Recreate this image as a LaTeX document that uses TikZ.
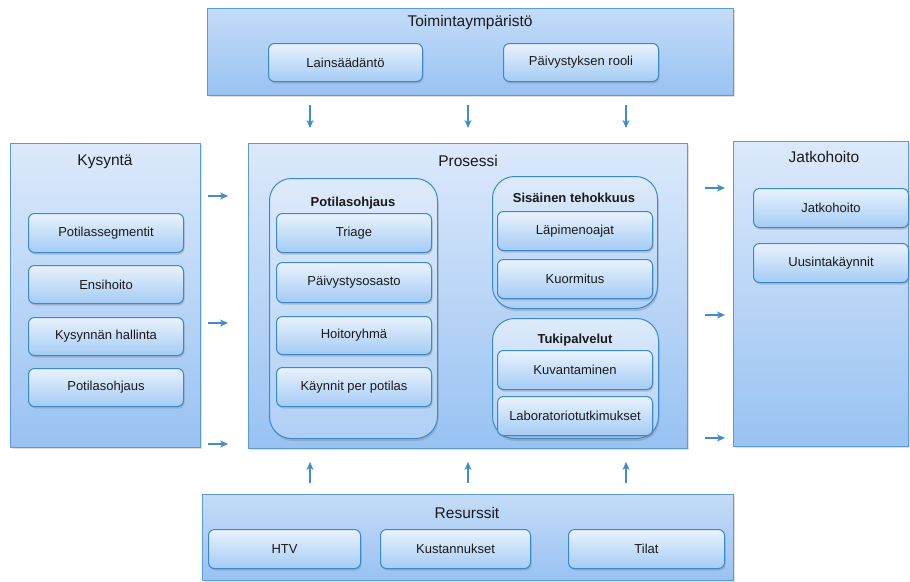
\documentclass[tikz,border=0pt]{standalone}
\usepackage{fontspec}
\setmainfont{Liberation Sans}
\usetikzlibrary{arrows.meta,shadows}
\definecolor{outerTop}{HTML}{DCE9FB}
\definecolor{outerBot}{HTML}{98C2F2}
\definecolor{envTop}{HTML}{C4DCF8}
\definecolor{envBot}{HTML}{98C2F2}
\definecolor{outerLine}{HTML}{5A9AD6}
\definecolor{itemTop}{HTML}{E9F2FC}
\definecolor{itemBot}{HTML}{A4CBF5}
\definecolor{itemLine}{HTML}{3B88CC}
\definecolor{grpTop}{HTML}{DDEAFA}
\definecolor{grpBot}{HTML}{AFD0F6}
\definecolor{arrCol}{HTML}{3F8DCF}
\definecolor{txt}{HTML}{1A1A1A}
\tikzset{
  outerbox/.style={draw=outerLine, line width=1.1pt, top color=outerTop, bottom color=outerBot,
    drop shadow={shadow xshift=1pt, shadow yshift=-1.5pt, opacity=0.25}},
  envbox/.style={outerbox, top color=envTop, bottom color=envBot},
  itembox/.style={draw=itemLine, line width=1pt, rounded corners=6pt, top color=itemTop, bottom color=itemBot,
    drop shadow={shadow xshift=1pt, shadow yshift=-2pt, opacity=0.35},
    text=txt, font=\fontsize{13}{15}\selectfont},
  grpbox/.style={draw=itemLine, line width=1pt, rounded corners=22pt, top color=grpTop, bottom color=grpBot,
    drop shadow={shadow xshift=1pt, shadow yshift=-2.5pt, opacity=0.35}},
  titletext/.style={text=txt, font=\fontsize{15.5}{17}\selectfont, inner sep=0pt},
  grptitle/.style={text=txt, font=\bfseries\fontsize{13}{15}\selectfont, inner sep=0pt},
  arr/.style={draw=arrCol, line width=1.1pt, -{Stealth[length=8pt,width=7pt,inset=2.5pt]}},
}
\newcommand{\bx}[7]{\node[#2, anchor=north west, inner sep=0pt, minimum width={(#5-#3)*1pt}, minimum height={(#6-#4)*1pt}] (#1) at (#3,#4) {#7};}
\begin{document}
\begin{tikzpicture}[x=1pt,y=-1pt]
\useasboundingbox (0,0) rectangle (910,581);
% outer boxes
\bx{env}{envbox}{207}{8}{733}{95}{}
\bx{kys}{outerbox}{10}{143}{200}{447}{}
\bx{pro}{outerbox}{248}{143}{687}{448}{}
\bx{jat}{outerbox}{733}{141}{908}{446}{}
\bx{res}{envbox}{202}{494}{733}{580}{}
% titles
\node[titletext] (envT) at (470,22) {Toimintaympäristö};
\node[titletext] (kysT) at (105,162) {Kysyntä};
\node[titletext] (proT) at (468,161) {Prosessi};
\node[titletext] (jatT) at (824,157) {Jatkohoito};
\node[titletext] (resT) at (467,513) {Resurssit};
% env items
\bx{lain}{itembox}{268}{43}{422}{81}{Lainsäädäntö}
\bx{rooli}{itembox}{503}{43}{658}{81}{Päivystyksen rooli}
% kysyntä items
\bx{seg}{itembox}{28}{213}{183}{252}{Potilassegmentit}
\bx{ens}{itembox}{28}{265}{183}{303}{Ensihoito}
\bx{hal}{itembox}{28}{317}{183}{355}{Kysynnän hallinta}
\bx{ohj}{itembox}{28}{368}{183}{406}{Potilasohjaus}
% groups
\bx{g1}{grpbox}{269}{178}{437}{438}{}
\bx{g2}{grpbox}{492}{176}{657}{308}{}
\bx{g3}{grpbox}{492}{318}{658}{438}{}
\node[grptitle] (g1T) at (353,203) {Potilasohjaus};
\node[grptitle] (g2T) at (574,198) {Sisäinen tehokkuus};
\node[grptitle] (g3T) at (575,340) {Tukipalvelut};
\bx{tri}{itembox}{276}{213}{431}{252}{Triage}
\bx{pos}{itembox}{276}{262}{431}{302}{Päivystysosasto}
\bx{hoi}{itembox}{276}{316}{431}{354}{Hoitoryhmä}
\bx{kay}{itembox}{276}{367}{431}{406}{Käynnit per potilas}
\bx{lap}{itembox}{497}{211}{652}{250}{Läpimenoajat}
\bx{kuo}{itembox}{497}{259}{652}{298}{Kuormitus}
\bx{kuv}{itembox}{497}{350}{652}{389}{Kuvantaminen}
\bx{lab}{itembox}{497}{396}{652}{435}{Laboratoriotutkimukset}
% jatkohoito items
\bx{jh}{itembox}{753}{188}{908}{227}{Jatkohoito}
\bx{uus}{itembox}{753}{243}{908}{282}{Uusintakäynnit}
% resurssit items
\bx{htv}{itembox}{208}{529}{360}{568}{HTV}
\bx{kus}{itembox}{380}{529}{530}{568}{Kustannukset}
\bx{til}{itembox}{568}{529}{724}{568}{Tilat}
% arrow end points
\foreach \i/\x in {1/310,2/468,3/626}{
  \coordinate (d\i a) at (\x,105); \coordinate (d\i b) at (\x,128);
  \coordinate (u\i a) at (\x,483); \coordinate (u\i b) at (\x,462);
}
\foreach \i/\y in {1/196,2/323,3/444}{
  \coordinate (l\i a) at (208,\y); \coordinate (l\i b) at (228,\y);
}
\foreach \i/\y in {1/188,2/315,3/438}{
  \coordinate (r\i a) at (705,\y); \coordinate (r\i b) at (725,\y);
}
\foreach \i in {1,2,3}{
  \draw[arr] (d\i a) -- (d\i b);
  \draw[arr] (u\i a) -- (u\i b);
  \draw[arr] (l\i a) -- (l\i b);
  \draw[arr] (r\i a) -- (r\i b);
}
\end{tikzpicture}
\end{document}
